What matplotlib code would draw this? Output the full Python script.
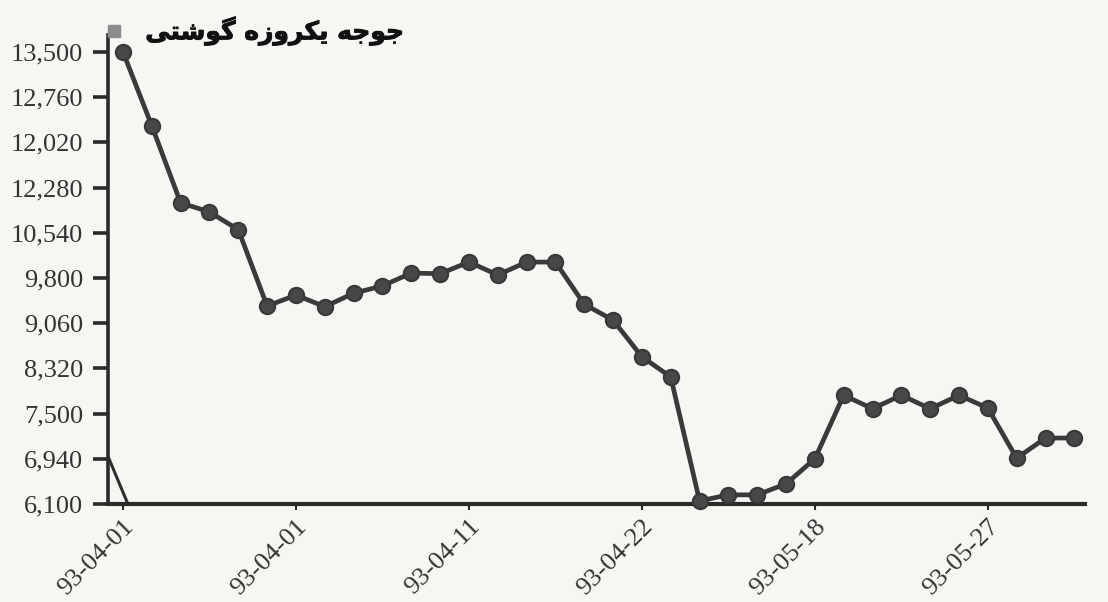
import matplotlib
matplotlib.use("Agg")
import matplotlib.pyplot as plt
from matplotlib.lines import Line2D
import matplotlib.patheffects as pe

# ---- data ----
title_logical = "جوجه یکروزه گوشتی"
# visually shaped (presentation forms, left-to-right order) for rendering
title_visual = ("\uFBFD\uFE98\uFEB7\uFEEE\uFB94 "
                "\uFEE9\uFEAF\uFEED\uFEAE\uFB91\uFBFE "
                "\uFEEA\uFE9F\uFEEE\uFE9F")

values = [13500, 12290, 11030, 10880, 10590, 9340, 9520, 9330, 9550, 9670,
          9880, 9870, 10060, 9850, 10060, 10060, 9370, 9110, 8510, 8180,
          6150, 6250, 6250, 6430, 6840, 7880, 7660, 7880, 7660, 7880,
          7670, 6850, 7180, 7180]
index = list(range(len(values)))

stub_index = [-0.52, 0.17]
stub_values = [6880, 6100]

x_tick_pos = [0, 6, 12, 18, 24, 30]
x_tick_labels = ['93-04-01', '93-04-01', '93-04-11', '93-04-22', '93-05-18', '93-05-27']

y_tick_pos = [6100, 6840, 7580, 8320, 9060, 9800, 10540, 11280, 12020, 12760, 13500]
y_tick_labels = ['6,100', '6,940', '7,500', '8,320', '9,060', '9,800', '10,540',
                 '12,280', '12,020', '12,760', '13,500']

# ---- figure ----
bg = '#f6f6f3'
fig = plt.figure(figsize=(11.08, 6.02), dpi=100, facecolor=bg)
ax = fig.add_axes([108/1108, 98/602, (1085-108)/1108, 469/602])
ax.set_facecolor(bg)

ink = '#333333'
ax.plot(index, values, color='#3a3a3a', lw=3.4, marker='o', ms=11,
        mfc='#474747', mec='#383838', mew=1.5, zorder=3, clip_on=False)
ax.plot(stub_index, stub_values, color='#2e2e2e', lw=2.2, zorder=2, clip_on=False)

ax.set_xlim(-0.52, 33.37)
ax.set_ylim(6100, 13777)

for s in ['top', 'right']:
    ax.spines[s].set_visible(False)
ax.spines['left'].set_linewidth(2.6)
ax.spines['bottom'].set_linewidth(3.0)
ax.spines['left'].set_color('#2a2a2a')
ax.spines['bottom'].set_color('#2a2a2a')

ax.set_yticks(y_tick_pos)
ax.set_yticklabels(y_tick_labels, family='Liberation Serif', fontsize=19, color=ink)
ax.tick_params(axis='y', length=11, width=2.6, pad=7, color='#2a2a2a')

ax.set_xticks(x_tick_pos)
ax.set_xticklabels(x_tick_labels, family='Liberation Serif', fontsize=19, color=ink,
                   rotation=45, ha='right', va='top', rotation_mode='anchor')
ax.tick_params(axis='x', length=4, width=1.5, pad=4, color='#2a2a2a')

handle = Line2D([], [], marker='s', ls='none', color='#8c8c8c', ms=9)
leg = ax.legend(handles=[handle], labels=[title_visual], loc='center left',
                bbox_to_anchor=(104/1108, 1 - 31/602), bbox_transform=fig.transFigure,
                frameon=False, borderpad=0, borderaxespad=0, handlelength=0.8,
                handletextpad=0.85, prop={'family': 'DejaVu Sans', 'weight': 'bold', 'size': 18})
for t in leg.get_texts():
    t.set_color('#111111')
    t.set_path_effects([pe.withStroke(linewidth=0.7, foreground='#111111')])

fig.savefig('out.png', dpi=100, facecolor=bg)
